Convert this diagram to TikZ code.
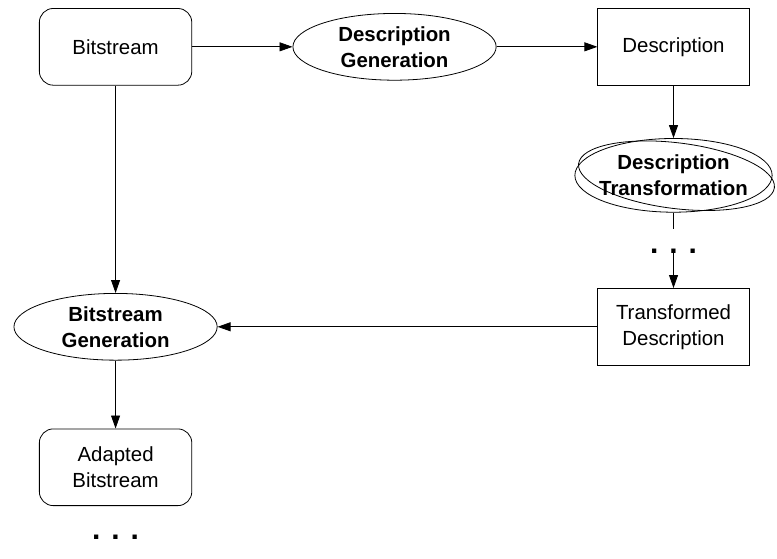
\documentclass[tikz,border=0pt]{standalone}
\usepackage{fontspec}
\setmainfont{Liberation Sans}
\usetikzlibrary{shapes, arrows.meta, calc, positioning}

\begin{document}
\begin{tikzpicture}[>={Triangle[length=13pt,width=9pt]}, node distance=280pt, line width=0.8pt]
	\tikzstyle{txt} = [font=\fontsize{20.5}{26}\selectfont, align=center, inner sep=0pt]
	\tikzstyle{rbox} = [txt, draw, rounded corners=14pt, minimum width=153pt, minimum height=77pt]
	\tikzstyle{box} = [txt, draw, rectangle, minimum width=152pt, minimum height=77pt]
	\tikzstyle{oval} = [txt, draw, ellipse, font=\fontsize{20.5}{26}\selectfont\bfseries, minimum width=204pt, minimum height=67pt]
	\tikzstyle{more} = [font=\fontsize{30}{30}\selectfont\bfseries, inner sep=0pt, minimum height=44pt]

	\path
		node[rbox] (bs) {Bitstream}
		node[oval, right of=bs] (dg) {Description\\Generation}
		node[box, right of=dg] (desc) {Description}
		node[oval, below of=desc, node distance=129pt, minimum width=198pt, minimum height=74pt, inner xsep=-8pt] (dt) {Description\\Transformation}
		node[more, below of=dt, node distance=76pt] (more1) {.\hspace{11pt}.\hspace{11pt}.}
		node[box, below of=dt, node distance=152pt] (td) {Transformed\\Description}
		node[oval, left of=td, node distance=560pt] (bg) {Bitstream\\Generation}
		node[rbox, below of=bg, node distance=141pt] (ab) {Adapted\\Bitstream}
		node[more, below of=ab, node distance=70pt] (more2) {.\hspace{11pt}.\hspace{11pt}.}
	;

	% second outline of the transformation oval
	\draw[rotate around={-7:(dt.center)}] ([xshift=3pt]dt.center) ellipse [x radius=99pt, y radius=33pt];

	\draw[->] (bs) -- (dg);
	\draw[->] (dg) -- (desc);
	\draw[->] (desc) -- (dt);
	\draw (dt) -- (more1.north);
	\draw[->] (more1.center) -- (td);
	\draw[->] (td) -- (bg);
	\draw[->] (bs) -- (bg);
	\draw[->] (bg) -- (ab);

	\useasboundingbox ([shift={(-116pt,47pt)}]bs.center) rectangle ([shift={(661pt,-495pt)}]bs.center);
\end{tikzpicture}
\end{document}
